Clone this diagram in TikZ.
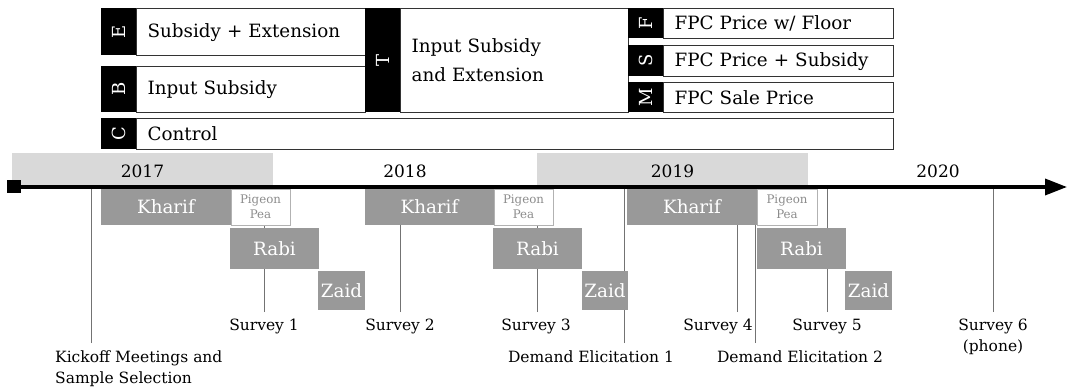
\documentclass[tikz,border=0pt]{standalone}
\usepackage{fontspec}
\setmainfont{DejaVu Serif}
\usetikzlibrary{arrows.meta}

\begin{document}
\begin{tikzpicture}
[x=1pt,y=-1pt,
armtag/.style={fill=black,text=white,rotate=90,inner sep=0pt,font=\fontsize{18}{20}\selectfont},
armbox/.style={draw=black!80,line width=1.2pt,anchor=north west,inner xsep=11pt,inner ysep=0pt,align=left,font=\fontsize{18.3}{22}\selectfont},
yearband/.style={minimum height=32pt,inner sep=0pt,text height=17pt,text depth=0pt,font=\fontsize{17}{20}\selectfont},
season/.style={fill=black!40,text=white,inner sep=0pt,font=\fontsize{18.3}{22}\selectfont},
pigeon/.style={draw=black!30,fill=white,text=black!45,line width=0.8pt,inner sep=0pt,align=center,font=\fontsize{11.8}{15}\selectfont},
marker/.style={draw=black!55,line width=0.9pt},
evtext/.style={anchor=north,inner sep=0pt,align=center,font=\fontsize{15.5}{21}\selectfont}]
\useasboundingbox (0,0) rectangle (1068,390);

\node[armtag,minimum width=47pt,minimum height=35pt] (tE) at (118.5,31.5) {E};
\node[armbox,minimum height=47pt,text width=207pt] (E) at (136,8) {Subsidy + Extension};
\node[armtag,minimum width=46pt,minimum height=35pt] (tB) at (118.5,89) {B};
\node[armbox,minimum height=46pt,text width=207pt] (B) at (136,66) {Input Subsidy};
\node[armtag,minimum width=31pt,minimum height=35pt] (tC) at (118.5,133.5) {C};
\node[armbox,minimum height=31pt,text width=735pt] (C) at (136,118) {Control};
\node[armtag,minimum width=104pt,minimum height=35pt] (tT) at (382.5,60) {T};
\node[armbox,minimum height=104pt,text width=206pt] (T) at (400,8) {Input Subsidy\\[7pt]and Extension};
\node[armtag,minimum width=30pt,minimum height=35pt] (tF) at (645.5,23) {F};
\node[armbox,minimum height=30pt,text width=208pt] (F) at (663,8) {FPC Price w/ Floor};
\node[armtag,minimum width=31pt,minimum height=35pt] (tS) at (645.5,60.5) {S};
\node[armbox,minimum height=31pt,text width=208pt] (S) at (663,45) {FPC Price + Subsidy};
\node[armtag,minimum width=30pt,minimum height=35pt] (tM) at (645.5,97) {M};
\node[armbox,minimum height=30pt,text width=208pt] (M) at (663,82) {FPC Sale Price};

\node[yearband,fill=black!15,minimum width=261pt] (y17) at (142.5,169) {2017};
\node[yearband,minimum width=264pt] (y18) at (405,169) {2018};
\node[yearband,fill=black!15,minimum width=271pt] (y19) at (672.5,169) {2019};
\node[yearband,minimum width=260pt] (y20) at (938,169) {2020};

\node[fill=black,minimum width=14pt,minimum height=13pt,inner sep=0pt] (start) at (14,187) {};
\coordinate (tip) at (1067,187);

\coordinate (kick) at (91,343);
\coordinate (s1) at (264,312);
\coordinate (s2) at (400,312);
\coordinate (s3) at (537,312);
\coordinate (de1) at (624,343);
\coordinate (s4) at (737,312);
\coordinate (de2) at (755,343);
\coordinate (s5) at (827,312);
\coordinate (s6) at (993,312);
\path[marker]
(kick) edge (kick |- start)
(s1) edge (s1 |- start)
(s2) edge (s2 |- start)
(s3) edge (s3 |- start)
(de1) edge (de1 |- start)
(s4) edge (s4 |- start)
(de2) edge (de2 |- start)
(s5) edge (s5 |- start)
(s6) edge (s6 |- start);

\node[evtext,anchor=north west,align=left] (kickT) at (55,351) {Kickoff Meetings and\\Sample Selection};
\node[evtext] (s1T) at (264,318.5) {Survey 1};
\node[evtext] (s2T) at (400,318.5) {Survey 2};
\node[evtext] (s3T) at (536,318.5) {Survey 3};
\node[evtext] (de1T) at (591,351) {Demand Elicitation 1};
\node[evtext] (s4T) at (718,318.5) {Survey 4};
\node[evtext] (de2T) at (800,351) {Demand Elicitation 2};
\node[evtext] (s5T) at (827,318.5) {Survey 5};
\node[evtext] (s6T) at (993,318.5) {Survey 6\\(phone)};

\node[season,minimum width=130pt,minimum height=36pt] (K17) at (166,207) {Kharif};
\node[pigeon,minimum width=59pt,minimum height=36pt] (P17) at (260.5,207) {Pigeon\\Pea};
\node[season,minimum width=89pt,minimum height=41pt] (R17) at (274.5,248.5) {Rabi};
\node[season,minimum width=47pt,minimum height=39pt] (Z17) at (341.5,290.5) {Zaid};
\node[season,minimum width=129pt,minimum height=36pt] (K18) at (429.5,207) {Kharif};
\node[pigeon,minimum width=59pt,minimum height=36pt] (P18) at (523.5,207) {Pigeon\\Pea};
\node[season,minimum width=89pt,minimum height=41pt] (R18) at (537.5,248.5) {Rabi};
\node[season,minimum width=46pt,minimum height=39pt] (Z18) at (605,290.5) {Zaid};
\node[season,minimum width=130pt,minimum height=36pt] (K19) at (692,207) {Kharif};
\node[pigeon,minimum width=60pt,minimum height=36pt] (P19) at (787,207) {Pigeon\\Pea};
\node[season,minimum width=89pt,minimum height=41pt] (R19) at (801.5,248.5) {Rabi};
\node[season,minimum width=47pt,minimum height=39pt] (Z19) at (868.5,290.5) {Zaid};

\draw[line width=3.5pt,-{Triangle[length=22pt,width=16pt]}] (start.center) -- (tip);
\end{tikzpicture}
\end{document}
